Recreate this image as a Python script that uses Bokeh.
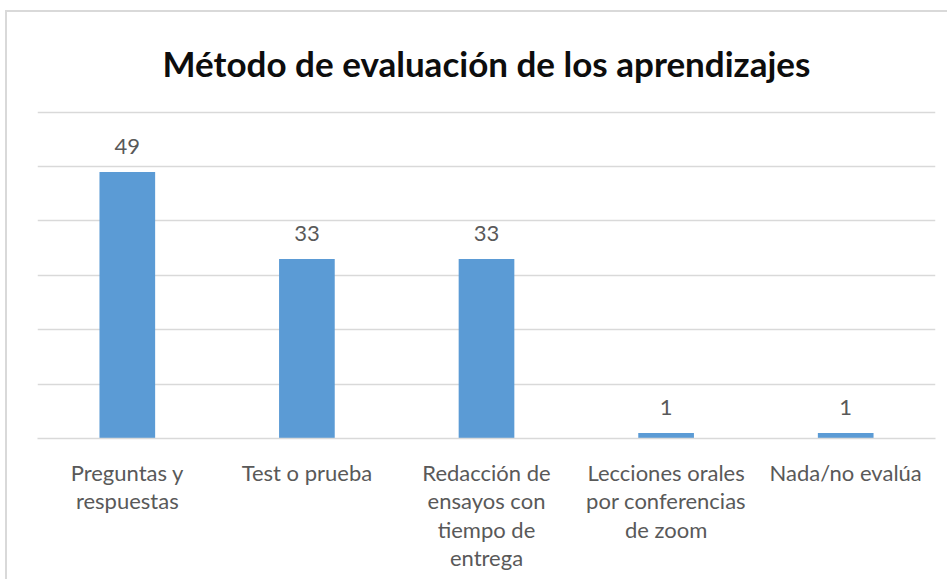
from bokeh.plotting import figure
from bokeh.models import FactorRange, Range1d, SingleIntervalTicker, ColumnDataSource, LabelSet
from bokeh.core.properties import value
from bokeh.embed import file_html
from bokeh.resources import INLINE

categories = ["Preguntas y\nrespuestas", "Test o prueba",
              "Redacción de\nensayos con\ntiempo de\nentrega",
              "Lecciones orales\npor conferencias\nde zoom", "Nada/no evalúa"]
values = [49, 33, 33, 1, 1]
value_labels = ["49", "33", "33", "1", "1"]
title_text = "Método de evaluación de los aprendizajes"

src = ColumnDataSource(dict(cat=categories, val=values, lab=value_labels))

p = figure(width=942, height=569, output_backend="svg", toolbar_location=None,
           x_range=FactorRange(factors=categories, range_padding=0),
           y_range=Range1d(0, 60.3),
           min_border_left=30, min_border_right=14, min_border_top=96, min_border_bottom=143,
           title=title_text)
p.margin = (10, 0, 0, 5)
p.styles = {"border-top": "2px solid #d9d9d9", "border-left": "2px solid #d9d9d9"}

p.vbar(x="cat", top="val", width=0.31, source=src, fill_color="#5B9BD5", line_color=None)

labels = LabelSet(x="cat", y="val", text="lab", source=src, y_offset=18,
                  text_align="center", text_baseline="alphabetic",
                  text_font=value("Lato"), text_font_size=value("22px"),
                  text_color="#595959")
p.add_layout(labels)

p.title.align = "center"
p.title.text_font = "Lato"
p.title.text_font_style = "bold"
p.title.text_font_size = "35px"
p.title.text_color = "#0d0d0d"
p.title.standoff = 54

p.outline_line_color = None
p.xgrid.grid_line_color = None
p.ygrid.ticker = SingleIntervalTicker(interval=10)
p.ygrid.grid_line_color = "#d9d9d9"
p.ygrid.grid_line_width = 1.5
p.yaxis.visible = False

ax = p.xaxis[0]
ax.axis_line_color = "#d9d9d9"
ax.axis_line_width = 1.5
ax.major_tick_line_color = None
ax.minor_tick_line_color = None
ax.major_label_standoff = 14
ax.major_label_text_font = "Lato"
ax.major_label_text_font_size = "22px"
ax.major_label_text_color = "#595959"
ax.major_label_text_line_height = 1.06

open("out.html", "w").write(file_html(p, INLINE))
